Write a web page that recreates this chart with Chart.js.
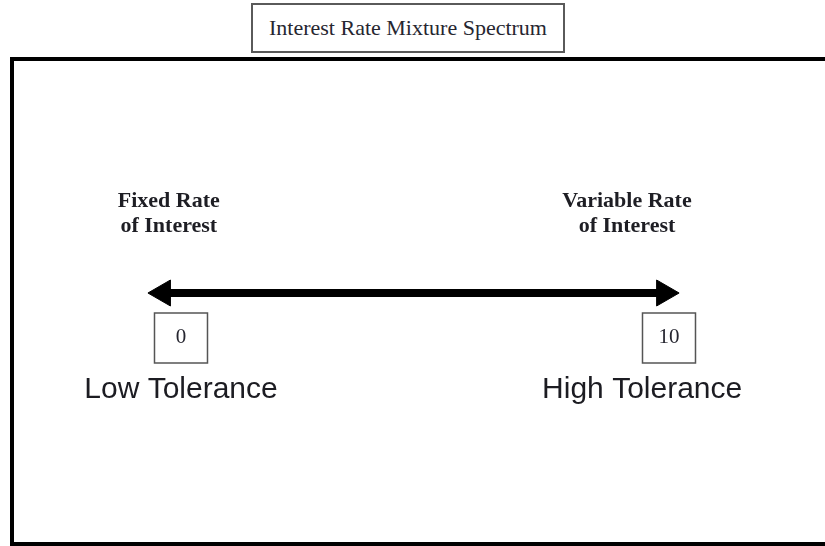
<!DOCTYPE html>
<html>
<head>
<meta charset="utf-8">
<title>Interest Rate Mixture Spectrum</title>
<script src="https://cdn.jsdelivr.net/npm/chart.js@4.4.1/dist/chart.umd.min.js"></script>
<style>
  html, body { margin: 0; padding: 0; background: #fff; overflow: hidden; }
  body { width: 825px; height: 546px; position: relative; }
  .frame {
    position: absolute; left: 10px; top: 57px; width: 900px; height: 489px;
    box-sizing: border-box; border: 4px solid #000;
  }
  .title-box {
    position: absolute; left: 251px; top: 3px; width: 314px; height: 50px;
    box-sizing: border-box; border: 2px solid #5a5a5a; background: #fff;
    font: 22px "Liberation Serif", "Times New Roman", serif; color: #262630;
    text-align: center; line-height: 46px;
  }
  #spectrum { position: absolute; left: 0; top: 0; }
</style>
</head>
<body>
<div class="frame"></div>
<div class="title-box">Interest Rate Mixture Spectrum</div>
<canvas id="spectrum" width="825" height="546"></canvas>
<script>
// spectrum scale: 0 = fixed rate / low tolerance, 10 = variable rate / high tolerance
const endValues = [0, 10];
const endLabels = ['0', '10'];
const arrowEnds = [-0.37, 9.9];           // arrow head centres on the scale
const rateAt = [-0.25, 9.14];
const rateLabels = [['Fixed Rate', 'of Interest'], ['Variable Rate', 'of Interest']];
const toleranceAt = [0, 9.45];
const toleranceLabels = ['Low Tolerance', 'High Tolerance'];

// labels and boxes hang off the arrow, offsets in px from the arrow line
const spectrumLabels = {
  id: 'spectrumLabels',
  afterDatasetsDraw(chart) {
    const { ctx, scales: { x, y } } = chart;
    const lineY = y.getPixelForValue(0);
    ctx.save();

    // 0 / 10 boxes
    endValues.forEach((v, i) => {
      const cx = x.getPixelForValue(v);
      const w = 53, h = 50;
      ctx.fillStyle = '#fff';
      ctx.strokeStyle = '#555';
      ctx.lineWidth = 1.5;
      ctx.fillRect(cx - w / 2, lineY + 20, w, h);
      ctx.strokeRect(cx - w / 2, lineY + 20, w, h);
      ctx.fillStyle = '#262630';
      ctx.font = '21px "Liberation Serif", serif';
      ctx.textAlign = 'center';
      ctx.textBaseline = 'middle';
      ctx.fillText(endLabels[i], cx, lineY + 44);
    });

    // rate labels above the arrow
    ctx.font = 'bold 22px "Liberation Serif", serif';
    ctx.fillStyle = '#1e1e24';
    ctx.textAlign = 'center';
    ctx.textBaseline = 'alphabetic';
    rateAt.forEach((v, i) => {
      const cx = x.getPixelForValue(v);
      rateLabels[i].forEach((line, j) => ctx.fillText(line, cx, lineY - 86 + j * 25));
    });

    // tolerance labels below the boxes
    ctx.font = '30px "Liberation Sans", Arial, sans-serif';
    ctx.fillStyle = '#1c1c22';
    toleranceAt.forEach((v, i) => {
      ctx.fillText(toleranceLabels[i], x.getPixelForValue(v), lineY + 105);
    });

    ctx.restore();
  }
};

new Chart(document.getElementById('spectrum'), {
  type: 'line',
  data: {
    datasets: [{
      data: arrowEnds.map(v => ({ x: v, y: 0 })),
      borderColor: '#000',
      borderWidth: 8,
      borderCapStyle: 'butt',
      pointStyle: 'triangle',
      pointRadius: 15,
      pointRotation: c => (c.dataIndex === 0 ? -90 : 90),
      pointBackgroundColor: '#000',
      pointBorderColor: '#000',
      pointBorderWidth: 1
    }]
  },
  options: {
    responsive: false,
    animation: false,
    events: [],
    layout: { padding: 0 },
    plugins: { legend: { display: false }, tooltip: { enabled: false }, title: { display: false } },
    // chart area is inset by the point radius, ranges chosen so 0 sits at x=181, 10 at x=669, arrow at y=293
    scales: {
      x: { type: 'linear', display: false, min: -3.381, max: 12.869 },
      y: { type: 'linear', display: false, min: -2.37, max: 2.77 }
    }
  },
  plugins: [spectrumLabels]
});
</script>
</body>
</html>
